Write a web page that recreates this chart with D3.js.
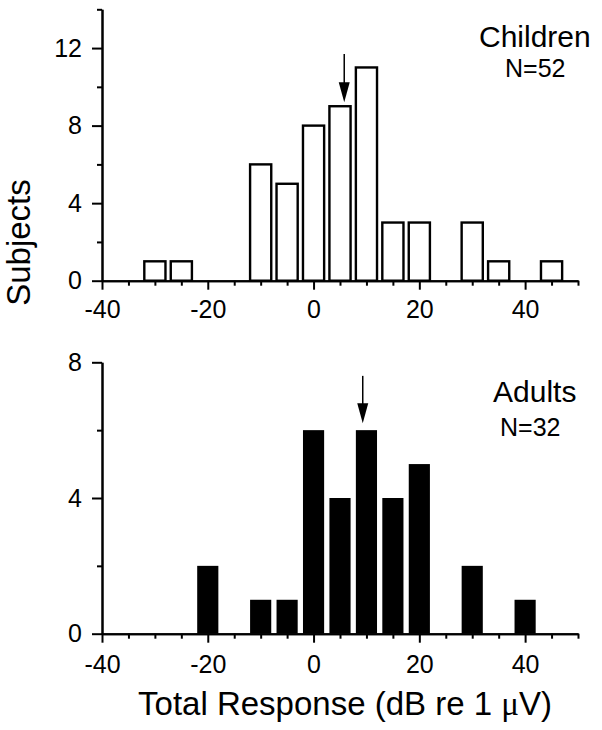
<!DOCTYPE html>
<html>
<head>
<meta charset="utf-8">
<script src="https://cdn.jsdelivr.net/npm/d3@7"></script>
<style>
  html, body { margin: 0; padding: 0; background: #fff; }
  svg { display: block; }
  text { font-family: "Liberation Sans", Arial, Helvetica, sans-serif; fill: #000; }
</style>
</head>
<body>
<svg id="chart" width="602" height="730"></svg>
<script>
// ---------- data ----------
const childBins   = [-30, -25, -10, -5, 0, 5, 10, 15, 20, 30, 35, 45];
const childCounts = [1, 1, 6, 5, 8, 9, 11, 3, 3, 3, 1, 1];
const adultBins   = [-20, -10, -5, 0, 5, 10, 15, 20, 30, 40];
const adultCounts = [2, 1, 1, 6, 4, 6, 4, 5, 2, 1];
const binWidth = 4;

const xDomain = [-40, 50];
const xMajorTicks = [-40, -20, 0, 20, 40];
const xMinorTicks = [-35, -30, -25, -15, -10, -5, 5, 10, 15, 25, 30, 35, 45, 50];

const childYDomain = [0, 14];
const childYMajor = [0, 4, 8, 12];
const childYMinor = [2, 6, 10, 14];
const adultYDomain = [0, 8];
const adultYMajor = [0, 4, 8];
const adultYMinor = [2, 6];

// mean arrows: x position, tail and tip (in subject units)
const childArrow = {x: 5.8, tail: 11.7, tip: 9.2};
const adultArrow = {x: 9.3, tail: 7.6, tip: 6.2};

const childLabel = "Children", childN = "N=52";
const adultLabel = "Adults", adultN = "N=32";
const xTitle = "Total Response (dB re 1 ", xTitleMu = "\u03BC", xTitleEnd = "V)";
const yTitle = "Subjects";

// ---------- layout ----------
const svg = d3.select("#chart");
svg.append("rect").attr("width", 602).attr("height", 730).attr("fill", "#fff");

const x = d3.scaleLinear().domain(xDomain).range([102, 578]);
const yTop = d3.scaleLinear().domain(childYDomain).range([280.7, 9.3]);
const yBot = d3.scaleLinear().domain(adultYDomain).range([633.7, 362.3]);

const fmt = d => String(d);  // plain hyphen-minus like the original

function styleAxis(g) {
  g.selectAll("path.domain").attr("stroke", "#000").attr("stroke-width", 2);
  g.selectAll(".tick line").attr("stroke", "#000").attr("stroke-width", 2);
  g.selectAll("text").attr("font-size", 25).attr("fill", "#000")
    .style("font-family", '"Liberation Sans", Arial, sans-serif');
}

function drawPanel(y, yMajor, yMinor, bins, counts, filled, arrow, label, nLabel, labelPos, padX) {
  const y0 = y.range()[0];
  const data = bins.map((b, i) => ({b, c: counts[i]}));
  svg.append("g").selectAll("rect").data(data).join("rect")
    .attr("x", d => x(d.b - binWidth / 2))
    .attr("width", d => x(d.b + binWidth / 2) - x(d.b - binWidth / 2))
    .attr("y", d => y(d.c))
    .attr("height", d => y(0) - y(d.c))
    .attr("fill", filled ? "#000" : "#fff")
    .attr("stroke", filled ? "none" : "#000")
    .attr("stroke-width", 2.4);

  svg.append("g").attr("transform", `translate(0,${y0})`)
    .call(d3.axisBottom(x).tickValues(xMinorTicks).tickSize(5).tickSizeOuter(0).tickFormat(""))
    .call(styleAxis);
  svg.append("g").attr("transform", `translate(0,${y0})`)
    .call(d3.axisBottom(x).tickValues(xMajorTicks).tickSize(9).tickSizeOuter(0).tickPadding(padX).tickFormat(fmt))
    .call(styleAxis);
  svg.append("g").attr("transform", `translate(${x.range()[0]},0)`)
    .call(d3.axisLeft(y).tickValues(yMinor).tickSize(5).tickSizeOuter(0).tickFormat(""))
    .call(styleAxis);
  svg.append("g").attr("transform", `translate(${x.range()[0]},0)`)
    .call(d3.axisLeft(y).tickValues(yMajor).tickSize(10).tickSizeOuter(0).tickPadding(10).tickFormat(fmt))
    .call(styleAxis);

  const ax = x(arrow.x), tipY = y(arrow.tip), headLen = 20, headHalf = 5.5;
  svg.append("line")
    .attr("x1", ax).attr("x2", ax)
    .attr("y1", y(arrow.tail)).attr("y2", tipY - headLen + 2)
    .attr("stroke", "#000").attr("stroke-width", 1.5);
  svg.append("path")
    .attr("d", `M${ax - headHalf},${tipY - headLen} L${ax + headHalf},${tipY - headLen} L${ax},${tipY} Z`)
    .attr("fill", "#000");

  svg.append("text").attr("x", labelPos[0]).attr("y", labelPos[1])
    .attr("font-size", 30).text(label);
  svg.append("text").attr("x", labelPos[2]).attr("y", labelPos[3])
    .attr("font-size", 25).text(nLabel);
}

drawPanel(yTop, childYMajor, childYMinor, childBins, childCounts, false, childArrow,
  childLabel, childN, [479, 46.7, 505, 76.7], 11);
drawPanel(yBot, adultYMajor, adultYMinor, adultBins, adultCounts, true, adultArrow,
  adultLabel, adultN, [493, 401.7, 500, 436], 13);

const xt = svg.append("text").attr("x", 345).attr("y", 715)
  .attr("text-anchor", "middle").attr("font-size", 33);
xt.append("tspan").text(xTitle);
xt.append("tspan").style("font-family", '"Liberation Serif", "Times New Roman", serif').text(xTitleMu);
xt.append("tspan").text(xTitleEnd);

svg.append("text")
  .attr("transform", "translate(30,242.5) rotate(-90)")
  .attr("text-anchor", "middle").attr("font-size", 33).text(yTitle);
</script>
</body>
</html>
